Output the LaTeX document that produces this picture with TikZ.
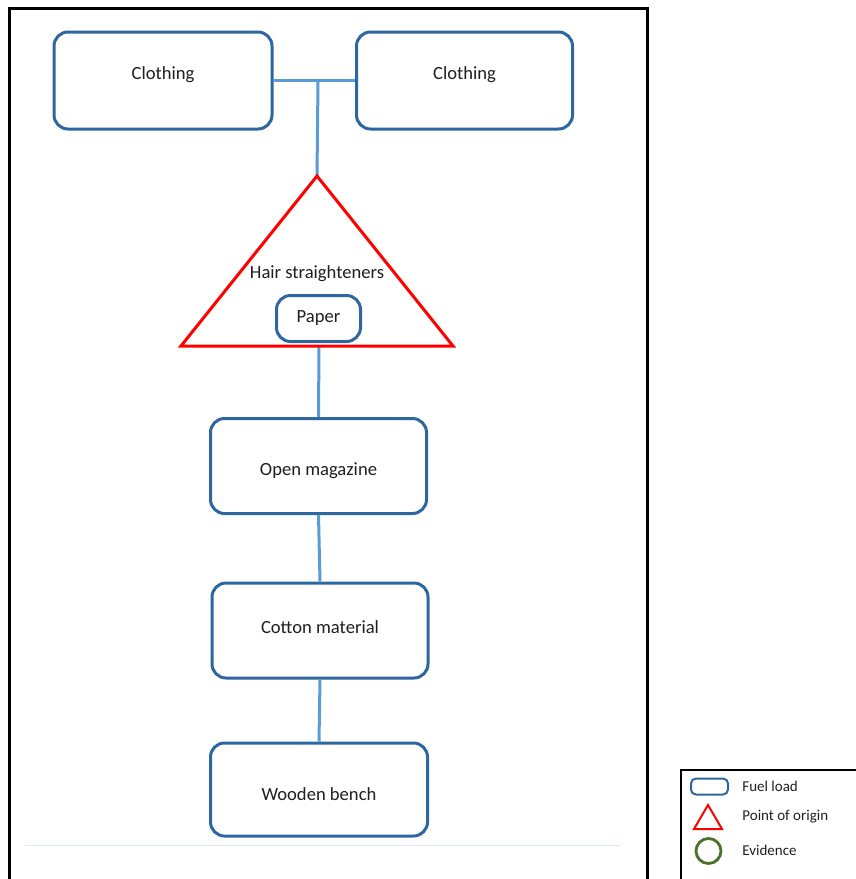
\documentclass[tikz,border=0pt]{standalone}
\usepackage{fontspec}
\setmainfont{Carlito}
\definecolor{fuelblue}{RGB}{46,103,160}
\definecolor{linkblue}{RGB}{91,155,213}
\definecolor{evgreen}{RGB}{72,115,40}
\definecolor{faintblue}{RGB}{220,232,243}
\begin{document}
\begin{tikzpicture}[
        x=0.5pt, y=-0.5pt,
        fuel/.style={rectangle, rounded corners=7pt, draw=fuelblue, line width=1.5pt, fill=white, minimum width=108pt, minimum height=47.5pt, font=\fontsize{9.3}{11}\selectfont, text=black!88},
        raised/.style={text depth=#1},
        lowered/.style={text height=#1},
        small/.style={fuel, minimum width=42pt, minimum height=23pt},
        origin/.style={draw=red, line width=1.5pt, line join=miter},
        link/.style={draw=linkblue, line width=1.5pt},
        label/.style={font=\fontsize{9.3}{11}\selectfont, text=black!88},
        key/.style={font=\fontsize{7.5}{9}\selectfont, text=black!88, anchor=west, inner sep=0pt},
        frame/.style={draw=black, line width=1.5pt}
    ]
    \useasboundingbox (0,0) rectangle (856,879);

    % outer frame and faint rule
    \draw[frame] (9,890) -- (9,8) -- (647,8) -- (647,890);
    \draw[faintblue, line width=0.5pt] (25,845) -- (620,845);

    % point of origin
    \coordinate (apex) at (317,176);
    \coordinate (baseL) at (181,346);
    \coordinate (baseR) at (453,346);
    \coordinate (join) at (318,82);

    \node[fuel, minimum width=109pt, minimum height=48.5pt, raised=7pt] (cloth1) at (163,80.5) {Clothing};
    \node[fuel, minimum height=48.5pt, raised=7pt] (cloth2) at (464.5,80.5) {Clothing};
    \node[fuel, lowered=11.5pt] (mag) at (318.5,466) {Open magazine};
    \node[fuel, raised=3.5pt] (cotton) at (320,630.5) {Cotton material};
    \node[fuel, minimum width=108.5pt, minimum height=46.5pt, lowered=11.5pt] (bench) at (319,789.5) {Wooden bench};

    \draw[link] (cloth1) -- (cloth2);
    \draw[link] (join) -- (apex);
    \draw[link] (319,346) -- (mag.north);
    \draw[link] (mag.south) -- (cotton.north);
    \draw[link] (cotton.south) -- (bench.north);

    \draw[origin] (apex) -- (baseR) -- (baseL) -- cycle;
    \node[label] (hair) at (317,274) {Hair straighteners};
    \node[small] (paper) at (318.5,318.5) {Paper};

    % legend
    \draw[black, line width=1pt] (681,890) -- (681,770) -- (870,770);
    \node[rectangle, rounded corners=2.5pt, draw=fuelblue, line width=1pt, minimum width=18.5pt, minimum height=8pt, inner sep=0pt] (keyfuel) at (709.5,786.5) {};
    \draw[red, line width=1pt] (708,805) -- (722,829) -- (694,829) -- cycle;
    \node[circle, draw=evgreen, line width=1.4pt, minimum size=12.5pt, inner sep=0pt] (keyev) at (708.5,851) {};
    \node[key] (tfuel) at (742,786) {Fuel load};
    \node[key] (torigin) at (742,817) {Point of origin};
    \node[key] (tev) at (742,850) {Evidence};

    \end{tikzpicture}
\end{document}
